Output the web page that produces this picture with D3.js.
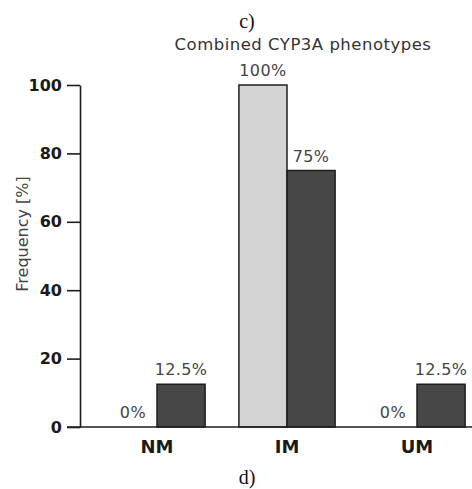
<!DOCTYPE html>
<html>
<head>
<meta charset="utf-8">
<script src="https://cdn.jsdelivr.net/npm/d3@7"></script>
<style>
  html, body { margin: 0; padding: 0; background: #fff; }
  svg { display: block; }
</style>
</head>
<body>
<div id="chart"></div>
<script>
// Chart values
const categories = ["NM", "IM", "UM"];
const seriesNames = ["light", "dark"];
const lightValues = [0, 100, 0];
const darkValues = [12.5, 75, 12.5];
const yTicks = [0, 20, 40, 60, 80, 100];

const W = 472, H = 489;
const margin = { top: 85, left: 80 };
const innerW = 402, innerH = 342;

const svg = d3.select("#chart").append("svg")
    .attr("width", W)
    .attr("height", H);

// Panel letters above and below
svg.append("text")
    .attr("x", 247).attr("y", 28)
    .attr("text-anchor", "middle")
    .style("font-family", "'Liberation Serif', serif")
    .style("font-size", "20px")
    .attr("fill", "#111")
    .text("c)");

svg.append("text")
    .attr("x", 247).attr("y", 484)
    .attr("text-anchor", "middle")
    .style("font-family", "'Liberation Serif', serif")
    .style("font-size", "20px")
    .attr("fill", "#111")
    .text("d)");

// Title
svg.append("text")
    .attr("x", 303).attr("y", 50)
    .attr("text-anchor", "middle")
    .style("font-family", "'DejaVu Sans', sans-serif")
    .style("font-size", "16.5px")
    .style("letter-spacing", "0.5px")
    .attr("fill", "#333")
    .text("Combined CYP3A phenotypes");

// Y axis title
svg.append("text")
    .attr("transform", "translate(28,234) rotate(-90)")
    .attr("text-anchor", "middle")
    .style("font-family", "'DejaVu Sans', sans-serif")
    .style("font-size", "16px")
    .attr("fill", "#444")
    .text("Frequency [%]");

const g = svg.append("g")
    .attr("transform", `translate(${margin.left},${margin.top})`);

const y = d3.scaleLinear().domain([0, 100]).range([innerH, 0]);
const x0 = d3.scaleBand().domain(categories).range([12, innerW])
    .paddingInner(0.26).paddingOuter(0.13);
const x1 = d3.scaleBand().domain(seriesNames).range([0, x0.bandwidth()]);

const colors = { light: "#d4d4d4", dark: "#474747" };

const rows = categories.map((c, i) => ({
    cat: c,
    vals: [{ s: "light", v: lightValues[i] }, { s: "dark", v: darkValues[i] }]
}));

// Bars
const groups = g.selectAll(".grp").data(rows).enter().append("g")
    .attr("class", "grp")
    .attr("transform", d => `translate(${x0(d.cat)},0)`);

groups.selectAll("rect").data(d => d.vals.filter(e => e.v > 0)).enter().append("rect")
    .attr("x", d => x1(d.s))
    .attr("y", d => y(d.v))
    .attr("width", x1.bandwidth())
    .attr("height", d => innerH - y(d.v))
    .attr("fill", d => colors[d.s])
    .attr("stroke", "#1e1e1e")
    .attr("stroke-width", 1.5);

// Value labels
const fmt = v => `${v}%`;
groups.selectAll(".val").data(d => d.vals).enter().append("text")
    .attr("class", "val")
    .attr("x", d => x1(d.s) + x1.bandwidth() / 2)
    .attr("y", d => y(d.v) - 9)
    .attr("text-anchor", "middle")
    .style("font-family", "'DejaVu Sans', sans-serif")
    .style("font-size", "16px")
    .style("letter-spacing", "0.4px")
    .attr("fill", "#444")
    .text(d => fmt(d.v));

// Y axis
const yAxis = g.append("g")
    .call(d3.axisLeft(y).tickValues(yTicks).tickSize(13).tickSizeOuter(0).tickPadding(5));
yAxis.selectAll("path, line").attr("stroke", "#1e1e1e").attr("stroke-width", 1.6);
yAxis.selectAll("text")
    .style("font-family", "'DejaVu Sans', sans-serif")
    .style("font-size", "16px")
    .style("font-weight", "bold")
    .attr("fill", "#1a1a1a");

// X axis
const xAxis = g.append("g")
    .attr("transform", `translate(0,${innerH})`)
    .call(d3.axisBottom(x0).tickSize(0).tickPadding(13));
xAxis.select(".domain").remove();
xAxis.selectAll("text")
    .style("font-family", "'DejaVu Sans', sans-serif")
    .style("font-size", "18px")
    .style("font-weight", "bold")
    .attr("fill", "#1a1a1a");

g.append("line")
    .attr("x1", -13).attr("x2", W - margin.left)
    .attr("y1", innerH).attr("y2", innerH)
    .attr("stroke", "#1e1e1e")
    .attr("stroke-width", 1.6);
</script>
</body>
</html>
